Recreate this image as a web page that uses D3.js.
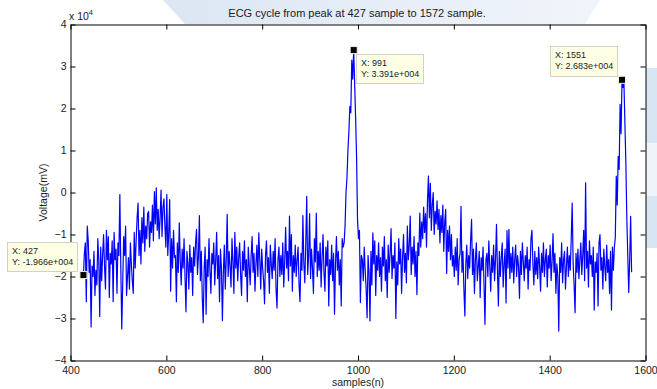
<!DOCTYPE html>
<html lang="en">
<head>
<meta charset="UTF-8" />
<title>ECG cycle from peak at 427 sample to 1572 sample</title>
<script src="https://d3js.org/d3.v7.min.js"></script>
<style>
  body { margin: 0; background: #fff; }
  svg { font-family: "Liberation Sans", Arial, sans-serif; }
  .axis text { font-size: 10.5px; fill: #1a1a1a; font-family: "Liberation Sans", Arial, sans-serif; }
  .axis path, .axis line { stroke: #000; }
  .tip text { font-size: 9px; fill: #222; }
</style>
</head>
<body>
<svg width="657" height="389"></svg>
<script>
// voltage in units of 1e4 mV, every 2nd sample; each segment starts at the sample in segmentStart
const segmentStart = [427, 541, 619, 971, 1009, 1129, 1199, 1535];
const sampleStep = 2;

const baseA = [
  -1.97, -1.45, -1.2, -2.6, -0.8, -1.15, -1.9, -1.6, -3.2, -1.75,
  -2.0, -1.4, -2.45, -1.85, -2.2, -1.1, -1.6, -2.95, -1.3, -2.1,
  -1.5, -1.0, -1.75, -2.3, -0.9, -1.6, -1.05, -2.5, -1.45, -1.7,
  -1.15, -2.6, -0.95, -1.6, -1.35, -2.4, -1.2, -1.5, -0.05, -1.8,
  -3.25, -2.15, -1.05, -1.5, -0.8, -2.45, -2.0, -1.55, -2.3, -1.2,
  -1.7, -2.1, -2.4, -0.95, -1.8, -1.15, -0.6
];
const pWave = [
  -0.25, -1.5, -0.9, -1.7, -0.6, -1.2, -0.35, -1.4, -0.8, -1.1,
  -0.5, -0.45, -1.3, -0.7, -0.95, -0.3, -1.15, 0.02, -0.75, 0.11,
  -0.9, -0.4, -1.1, -0.6, 0.06, -1.05, -0.35, -0.15, -0.8, -1.3,
  -0.05, -1.5, -0.95, -0.17, -2.35, -1.1, -1.8, -0.9, -1.55
];
const baseB = [
  -1.5, -2.6, -1.2, -1.9, -0.72, -1.6, -2.2, -1.35, -1.8, -1.1,
  -2.0, -2.84, -1.4, -1.7, -2.3, -1.25, -1.9, -1.55, -2.45, -1.3,
  -1.75, -1.2, -0.88, -1.95, -1.5, -0.55, -2.1, -1.4, -2.5, -3.1,
  -1.8, -1.3, -2.9, -1.6, -2.0, -1.1, -1.85, -2.4, -1.45, -1.7,
  -1.2, -2.2, -1.6, -0.95, -2.05, -1.5, -2.6, -1.35, -1.8, -3.05,
  -1.9, -1.25, -2.3, -1.6, -0.52, -2.0, -1.4, -1.75, -2.25, -1.1,
  -1.65, -2.4, -0.95, -1.8, -1.3, -2.1, -1.55, -1.2, -1.95, -2.45,
  -1.4, -1.85, -1.15, -2.0, -1.6, -2.6, -1.3, -1.75, -2.2, -1.5,
  -1.05, -1.9, -1.45, -2.35, -1.7, -1.25, -2.0, -0.96, -1.6, -2.3,
  -1.35, -1.8, -2.1, -2.65, -1.5, -1.15, -1.9, -1.55, -2.4, -1.25,
  -1.7, -2.05, -1.4, -1.85, -1.1, -2.3, -2.75, -1.6, -1.3, -2.0,
  -1.5, -1.95, -1.2, -2.25, -1.65, -0.83, -1.8, -1.4, -2.1, -0.56,
  -1.75, -1.0, -2.35, -1.5, -1.9, -1.25, -2.0, -1.6, -1.3, -2.2,
  -2.6, -1.45, -1.85, -0.55, -1.7, -2.15, -1.2, -0.09, -1.95, -1.5,
  -0.5, -2.05, -1.35, -1.8, -2.4, -1.1, -1.65, -0.49, -2.0, -1.4,
  -1.85, -1.2, -2.25, -1.55, -1.0, -1.9, -2.35, -1.3, -1.75, -1.15,
  -2.7, -1.6, -1.95, -1.25, -2.1, -1.45, -2.9, -1.7, -1.05, -1.85,
  -1.4, -2.2, -1.6, -2.7, -1.1, -1.3
];
const rPeak1 = [
  -1.2, -0.8, 0.0, 0.35, 1.0, 1.45, 2.05, 1.9, 3.15, 2.7,
  3.391, 2.6, 1.8, 0.86, -0.64, -1.1, -0.9, -2.62, -1.5
];
const baseC = [
  -1.6, -2.1, -1.3, -1.85, -2.3, -2.98, -1.5, -1.9, -3.06, -1.4,
  -2.2, -0.96, -1.7, -1.15, -2.45, -1.5, -1.85, -1.2, -2.0, -1.55,
  -2.35, -1.3, -1.75, -1.05, -2.1, -1.6, -2.5, -1.25, -1.9, -1.45,
  -0.86, -2.05, -1.5, -1.8, -1.2, -3.0, -1.65, -2.2, -1.1, -1.7,
  -1.35, -2.4, -1.55, -1.0, -1.9, -1.45, -2.15, -0.8, -1.6, -1.25,
  -0.56, -1.95, -1.3, -1.7, -1.05, -2.0, -1.4, -2.43, -1.2, -1.5
];
const tWave = [
  -0.49, -1.3, -0.7, -1.1, -0.35, -0.95, -0.5, -1.3, -0.2, 0.39,
  -0.6, 0.22, -0.9, -0.3, 0.0, -1.0, -0.45, -0.75, -0.2, -0.88,
  -0.4, -1.2, -0.55, -0.95, -0.3, -1.4, -0.7, -0.4, -1.93, -0.9,
  -1.4, -0.8, -1.6, -1.0, -1.75
];
const baseD = [
  -1.5, -2.0, -1.3, -1.85, -1.1, -2.2, -1.6, -1.45, -0.33, -1.9,
  -1.4, -2.3, -2.94, -1.7, -1.25, -2.05, -1.5, -1.8, -1.15, -0.64,
  -1.95, -1.35, -2.4, -1.6, -1.2, -2.1, -1.75, -1.4, -2.5, -1.55,
  -1.85, -1.3, -2.2, -3.14, -1.6, -1.45, -2.0, -1.15, -1.75, -2.35,
  -1.5, -1.9, -1.25, -2.1, -1.6, -0.76, -1.85, -2.7, -1.4, -2.0,
  -1.55, -1.2, -2.25, -1.7, -1.35, -2.63, -0.91, -1.8, -0.88, -2.05,
  -1.45, -1.9, -1.3, -2.15, -1.6, -1.25, -2.0, -1.5, -1.75, -2.52,
  -1.4, -1.95, -1.2, -1.65, -2.1, -1.5, -1.8, -1.3, -2.3, -1.6,
  -1.85, -1.1, -0.9, -1.7, -2.2, -1.4, -1.95, -1.55, -2.05, -1.3,
  -1.75, -2.35, -1.45, -1.9, -1.2, -2.0, -1.6, -1.35, -2.25, -1.5,
  -1.8, -1.25, -2.1, -1.65, -0.98, -1.9, -1.45, -2.4, -1.7, -2.0,
  -3.3, -1.55, -1.9, -1.2, -2.15, -1.6, -1.4, -2.3, -1.75, -1.3,
  -2.0, -1.5, -1.85, -1.1, -0.25, -1.7, -2.2, -2.86, -1.45, -1.9,
  -1.35, -2.05, -1.6, -1.2, -1.95, -1.5, -0.9, -2.1, 0.23, -1.8,
  -1.4, -2.25, -1.15, -1.7, -1.5, -2.0, -1.3, -2.8, -1.65, -1.9,
  -1.45, -2.7, -1.2, -1.0, -1.85, -1.55, -2.3, -1.35, -1.75, -2.1,
  -1.25, -1.9, -1.6, -2.4, -1.4, -2.8, -1.3, -1.85
];
const rPeak2 = [
  -1.3, -1.07, 0.39, -0.3, 0.86, 0.55, 2.1, 1.4, 2.683, 2.5,
  2.6, 1.66, 0.71, -0.6, -1.5, -2.38, -1.6, -0.57, -1.9
];
const segments = [baseA, pWave, baseB, rPeak1, baseC, tWave, baseD, rPeak2];

// data tips
const tipSample = [427, 991, 1551];
const tipValue = [-1.966, 3.391, 2.683];
const tipText = ["-1.966e+004", "3.391e+004", "2.683e+004"];

const xTicks = [400, 600, 800, 1000, 1200, 1400, 1600];
const yTicks = [-4, -3, -2, -1, 0, 1, 2, 3, 4];

const svg = d3.select("svg");

// faint background decoration of the figure window
const defs = svg.append("defs");
const grad = defs.append("linearGradient").attr("id", "sweep").attr("x1", "0").attr("x2", "1");
grad.append("stop").attr("offset", "0").attr("stop-color", "#dbe6f3");
grad.append("stop").attr("offset", "1").attr("stop-color", "#f1f5fb");
svg.append("path")
  .attr("d", "M163,0 L600,0 L585,24 L185,24 Z")
  .attr("fill", "url(#sweep)");
svg.append("rect").attr("x", 646).attr("y", 68).attr("width", 11).attr("height", 180).attr("fill", "#d8e5f3");
svg.append("rect").attr("x", 646).attr("y", 143).attr("width", 11).attr("height", 53).attr("fill", "#eef4fa");

const x = d3.scaleLinear().domain([400, 1600]).range([70.5, 645.5]);
const y = d3.scaleLinear().domain([-4, 4]).range([360.5, 24.5]);

svg.append("rect")
  .attr("x", x(400)).attr("y", y(4))
  .attr("width", x(1600) - x(400)).attr("height", y(-4) - y(4))
  .attr("fill", "#fff");

// signal
const points = [];
segments.forEach((seg, s) => {
  seg.forEach((v, j) => points.push({ sample: segmentStart[s] + j * sampleStep, v }));
});
const line = d3.line().x(d => x(d.sample)).y(d => y(d.v));
svg.append("path")
  .datum(points)
  .attr("d", line)
  .attr("fill", "none")
  .attr("stroke", "#0000ff")
  .attr("stroke-width", 1.2)
  .attr("stroke-linejoin", "round");

// axes (box with inward ticks)
svg.append("g").attr("class", "axis")
  .attr("transform", `translate(0,${y(-4)})`)
  .call(d3.axisBottom(x).tickValues(xTicks).tickSize(-5).tickSizeOuter(0).tickPadding(6).tickFormat(d3.format("d")));
svg.append("g").attr("class", "axis")
  .attr("transform", `translate(0,${y(4)})`)
  .call(d3.axisTop(x).tickValues(xTicks).tickSize(-5).tickSizeOuter(0).tickFormat(""));
svg.append("g").attr("class", "axis")
  .attr("transform", `translate(${x(400)},0)`)
  .call(d3.axisLeft(y).tickValues(yTicks).tickSize(-5).tickSizeOuter(0).tickPadding(4).tickFormat(d3.format("d")));
svg.append("g").attr("class", "axis")
  .attr("transform", `translate(${x(1600)},0)`)
  .call(d3.axisRight(y).tickValues(yTicks).tickSize(-5).tickSizeOuter(0).tickFormat(""));

// exponent note
const expo = svg.append("text").attr("x", 69).attr("y", 20).attr("font-size", 10.5).attr("fill", "#1a1a1a");
expo.append("tspan").text("x 10");
expo.append("tspan").attr("dy", -5).attr("font-size", 7.5).text("4");

// titles
svg.append("text")
  .attr("x", 357).attr("y", 17)
  .attr("text-anchor", "middle").attr("font-size", 11).attr("fill", "#1a1a1a")
  .text("ECG cycle from peak at 427 sample to 1572 sample.");
svg.append("text")
  .attr("x", (x(400) + x(1600)) / 2).attr("y", 386)
  .attr("text-anchor", "middle").attr("font-size", 10.5).attr("fill", "#1a1a1a")
  .text("samples(n)");
svg.append("text")
  .attr("transform", `translate(47,${(y(4) + y(-4)) / 2}) rotate(-90)`)
  .attr("text-anchor", "middle").attr("font-size", 10.5).attr("fill", "#1a1a1a")
  .text("Voltage(mV)");

// data tip boxes: offset of box from its marker
const tipBox = [
  { dx: -76, dy: -33, w: 70, h: 29 },
  { dx: 2.5, dy: 3.5, w: 67, h: 29 },
  { dx: -72.5, dy: -33.5, w: 67, h: 30 }
];
tipSample.forEach((s, i) => {
  const mx = x(s), my = y(tipValue[i]);
  const b = tipBox[i];
  const g = svg.append("g").attr("class", "tip");
  g.append("rect")
    .attr("x", Math.round(mx + b.dx) + 0.5).attr("y", Math.round(my + b.dy) + 0.5)
    .attr("width", b.w).attr("height", b.h)
    .attr("fill", "#ffffe6").attr("stroke", "#d2d2c4");
  g.append("text")
    .attr("x", Math.round(mx + b.dx) + 5).attr("y", Math.round(my + b.dy) + 12)
    .text("X: " + s);
  g.append("text")
    .attr("x", Math.round(mx + b.dx) + 5).attr("y", Math.round(my + b.dy) + 23)
    .text("Y: " + tipText[i]);
  g.append("rect")
    .attr("x", mx - 3.5).attr("y", my - 3.5)
    .attr("width", 7).attr("height", 7)
    .attr("fill", "#000").attr("stroke", "#f4f1c8").attr("stroke-width", 1);
});
</script>
</body>
</html>
